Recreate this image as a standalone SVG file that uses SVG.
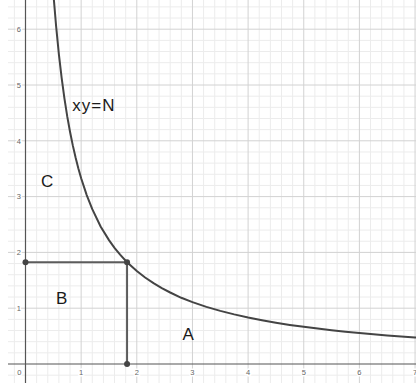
<svg xmlns="http://www.w3.org/2000/svg" width="416" height="383" viewBox="0 0 416 383">
<style>
.minor{stroke:#ececec;stroke-width:1;fill:none}
.major{stroke:#d2d2d2;stroke-width:1;fill:none}
.axis{stroke:#555;stroke-width:1.2;fill:none}
.num{font-family:"Liberation Sans",Arial,sans-serif;font-size:7.5px;fill:#666;stroke:#fff;stroke-width:3;paint-order:stroke}
.lbl{font-family:"Liberation Sans",Arial,sans-serif;font-size:17px;fill:#1a1a1a}
.curve{stroke:#444;stroke-width:2;fill:none}
.seg{stroke:#5c5c5c;stroke-width:2;fill:none}
.pt{fill:#444}
</style>
<rect width="416" height="383" fill="#fff"/>
<g id="grid">
<path class="minor" d="M14.37 0V383M36.63 0V383M47.76 0V383M58.89 0V383M70.02 0V383M92.28 0V383M103.41 0V383M114.54 0V383M125.67 0V383M147.93 0V383M159.06 0V383M170.19 0V383M181.32 0V383M203.58 0V383M214.71 0V383M225.84 0V383M236.97 0V383M259.23 0V383M270.36 0V383M281.49 0V383M292.62 0V383M314.88 0V383M326.01 0V383M337.14 0V383M348.27 0V383M370.53 0V383M381.66 0V383M392.79 0V383M403.92 0V383"/>
<path class="minor" d="M8 375.16H416M8 352.84H416M8 341.68H416M8 330.52H416M8 319.36H416M8 297.04H416M8 285.88H416M8 274.72H416M8 263.56H416M8 241.24H416M8 230.08H416M8 218.92H416M8 207.76H416M8 185.44H416M8 174.28H416M8 163.12H416M8 151.96H416M8 129.64H416M8 118.48H416M8 107.32H416M8 96.16H416M8 73.84H416M8 62.68H416M8 51.52H416M8 40.36H416M8 18.04H416M8 6.88H416"/>
<path class="major" d="M81.15 0V383M136.8 0V383M192.45 0V383M248.1 0V383M303.75 0V383M359.4 0V383M415.05 0V383"/>
<path class="major" d="M8 308.2H416M8 252.4H416M8 196.6H416M8 140.8H416M8 85H416M8 29.2H416"/>
</g>
<g id="axes">
<path class="axis" d="M8 364H416M25.5 0V383"/>
<g class="num">
<text x="19.3" y="375" text-anchor="middle">0</text>
<text x="81.15" y="375" text-anchor="middle">1</text>
<text x="136.8" y="375" text-anchor="middle">2</text>
<text x="192.45" y="375" text-anchor="middle">3</text>
<text x="248.1" y="375" text-anchor="middle">4</text>
<text x="303.75" y="375" text-anchor="middle">5</text>
<text x="359.4" y="375" text-anchor="middle">6</text>
<text x="415.05" y="375" text-anchor="middle">7</text>
<text x="21" y="310.9" text-anchor="end">1</text>
<text x="21" y="255.1" text-anchor="end">2</text>
<text x="21" y="199.3" text-anchor="end">3</text>
<text x="21" y="143.5" text-anchor="end">4</text>
<text x="21" y="87.7" text-anchor="end">5</text>
<text x="21" y="31.9" text-anchor="end">6</text>
</g>
</g>
<g id="connectors">
<path class="seg" d="M25.5 262.2H127.06V364"/>
<path class="curve" d="M53.88 -0.3L56.11 26.2L58.89 54.3L61.67 78.1L64.46 98.6L67.24 116.4L70.02 131.7L72.8 145.4L75.59 157.5L78.37 168.4L81.15 178.2L86.72 195.1L92.28 209.2L100.6 226.4L108.98 240.1L114.5 247.9L120.1 254.7L127.06 262.2L136.8 271.1L145.1 277.5L153.5 283.2L161.8 288.1L170.2 292.5L181.3 297.8L192.45 302.1L206.4 306.9L220.3 310.9L234.2 314.4L248.1 317.5L262 320.2L275.9 322.7L289.8 324.9L303.75 326.8L317.7 328.6L331.6 330.2L345.5 331.7L359.4 333L373.3 334.3L387.2 335.4L401.1 336.5L415.05 337.5L420.6 337.8"/>
</g>
<g id="points">
<circle class="pt" cx="25.5" cy="262.2" r="3"/>
<circle class="pt" cx="127.06" cy="262.2" r="3"/>
<circle class="pt" cx="127.06" cy="364" r="3"/>
</g>
<g id="label-xy"><text class="lbl" x="72.3" y="110.5" letter-spacing="1">xy=N</text></g>
<g id="label-C"><text class="lbl" x="41" y="187">C</text></g>
<g id="label-B"><text class="lbl" x="56" y="304">B</text></g>
<g id="label-A"><text class="lbl" x="182.5" y="340.3">A</text></g>
</svg>
